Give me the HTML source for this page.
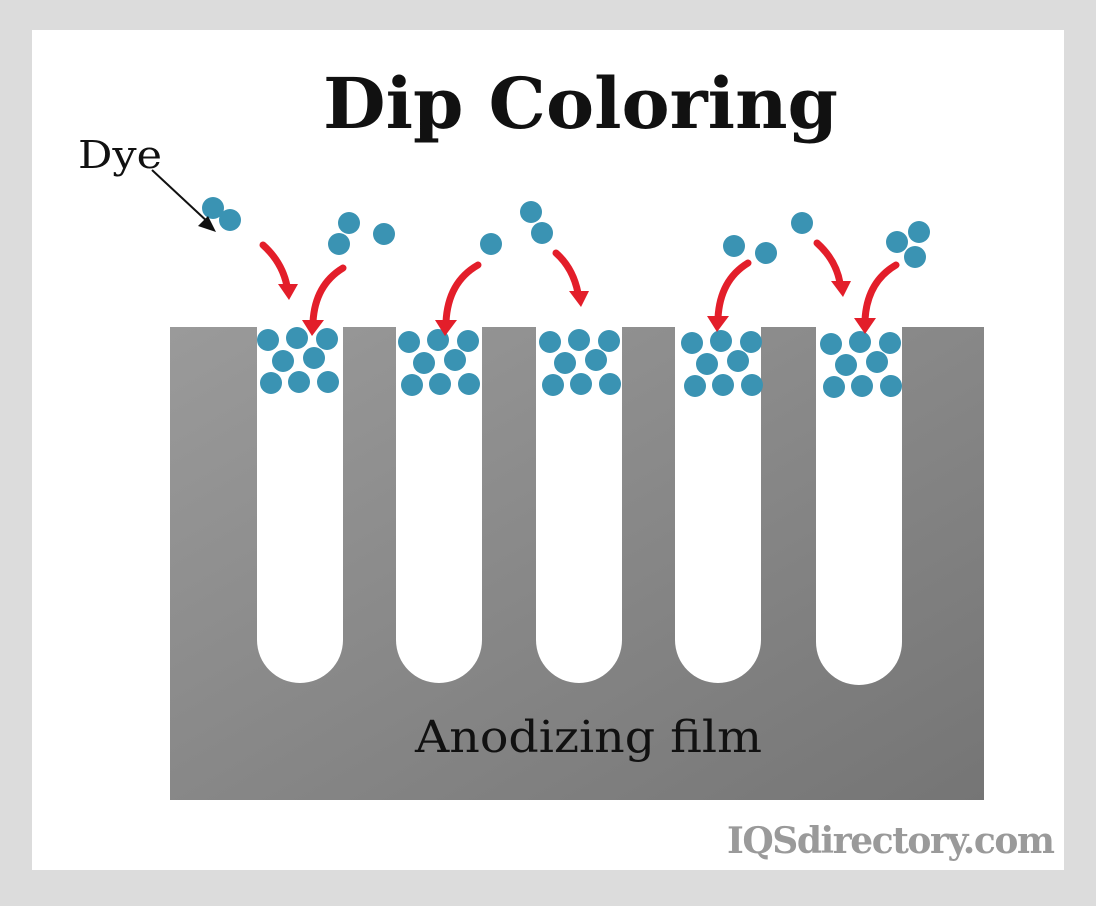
<!DOCTYPE html>
<html><head><style>
body{margin:0;width:1096px;height:901px;overflow:hidden;background:#dcdcdc;}
</style></head><body>
<svg width="1096" height="901" viewBox="0 0 1096 901" xmlns="http://www.w3.org/2000/svg">
<defs>
<linearGradient id="g" x1="0" y1="0" x2="1" y2="1">
<stop offset="0" stop-color="#9a9a9a"/><stop offset="1" stop-color="#757575"/>
</linearGradient>
</defs>
<rect x="0" y="0" width="1096" height="901" fill="#dcdcdc"/>
<rect x="32" y="30" width="1032" height="840" fill="#fff"/>
<rect x="170" y="327" width="814" height="473" fill="url(#g)"/>
<g fill="#fff">
<path d="M257 320 H343 V640 A43 43 0 0 1 257 640 Z"/>
<path d="M396 320 H482 V640 A43 43 0 0 1 396 640 Z"/>
<path d="M536 320 H622 V640 A43 43 0 0 1 536 640 Z"/>
<path d="M675 320 H761 V640 A43 43 0 0 1 675 640 Z"/>
<path d="M816 320 H902 V642 A43 43 0 0 1 816 642 Z"/>
</g>
<g fill="#3a93b3">
<g id="p"><circle cx="268" cy="340" r="11"/><circle cx="297" cy="338" r="11"/><circle cx="327" cy="339" r="11"/><circle cx="283" cy="361" r="11"/><circle cx="314" cy="358" r="11"/><circle cx="271" cy="383" r="11"/><circle cx="299" cy="382" r="11"/><circle cx="328" cy="382" r="11"/></g>
<use href="#p" x="141" y="2"/>
<use href="#p" x="282" y="2"/>
<use href="#p" x="424" y="3"/>
<use href="#p" x="563" y="4"/>
<circle cx="213" cy="208" r="11"/><circle cx="230" cy="220" r="11"/>
<circle cx="349" cy="223" r="11"/><circle cx="339" cy="244" r="11"/><circle cx="384" cy="234" r="11"/>
<circle cx="491" cy="244" r="11"/><circle cx="531" cy="212" r="11"/><circle cx="542" cy="233" r="11"/>
<circle cx="734" cy="246" r="11"/><circle cx="766" cy="253" r="11"/><circle cx="802" cy="223" r="11"/>
<circle cx="897" cy="242" r="11"/><circle cx="919" cy="232" r="11"/><circle cx="915" cy="257" r="11"/>
</g>
<g stroke="#e31e2a" stroke-width="7" fill="none" stroke-linecap="round">
<path d="M263 245 Q282 262 287 286"/>
<path d="M343 268 Q315 285 313 322"/>
<path d="M478 265 Q448 282 446 322"/>
<path d="M556 253 Q573 268 578 293"/>
<path d="M748 263 Q720 280 718 318"/>
<path d="M817 243 Q836 260 840 283"/>
<path d="M896 265 Q867 282 865 320"/>
</g>
<g fill="#e31e2a">
<polygon points="278,284 298,284 289,300"/>
<polygon points="302,320 324,320 312,336"/>
<polygon points="435,320 457,320 445,336"/>
<polygon points="569,291 589,291 581,307"/>
<polygon points="707,316 729,316 717,332"/>
<polygon points="831,281 851,281 843,297"/>
<polygon points="854,318 876,318 865,334"/>
</g>
<line x1="152" y1="170" x2="210" y2="224" stroke="#111" stroke-width="2"/>
<polygon points="216,232 198,226 208,216" fill="#111"/>
<text x="323" y="128" font-family="'DejaVu Serif',serif" font-weight="bold" font-size="70" fill="#111" textLength="515" lengthAdjust="spacingAndGlyphs">Dip Coloring</text>
<text x="78" y="168" font-family="'DejaVu Serif',serif" font-size="38" fill="#111" textLength="84" lengthAdjust="spacingAndGlyphs">Dye</text>
<text x="415" y="752" font-family="'DejaVu Serif',serif" font-size="44" fill="#111" textLength="347" lengthAdjust="spacingAndGlyphs">Anodizing film</text>
<text x="1055" y="853" text-anchor="end" font-family="'DejaVu Serif',serif" font-weight="bold" font-size="36" fill="#9a9a9a" textLength="328">IQSdirectory.com</text>
</svg>
</body></html>
